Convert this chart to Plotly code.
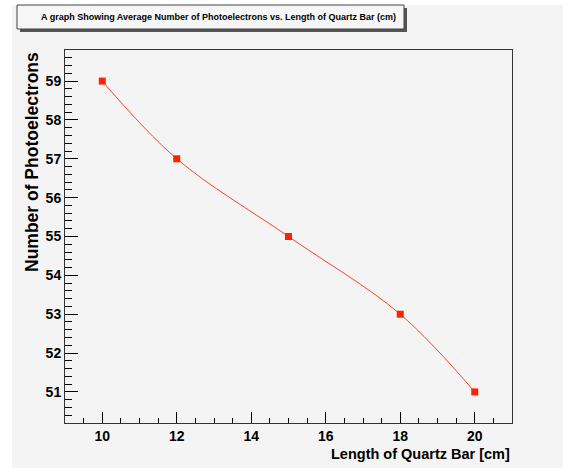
import plotly.graph_objects as go

# Data
lengths_cm = [10, 12, 15, 18, 20]
photoelectrons = [59, 57, 55, 53, 51]
x_ticks = [10, 12, 14, 16, 18, 20]
y_ticks = [51, 52, 53, 54, 55, 56, 57, 58, 59]

title_text = "A graph Showing Average Number of Photoelectrons vs. Length of Quartz Bar (cm)"
x_title = "Length of Quartz Bar [cm]"
y_title = "Number of Photoelectrons"

W, H = 563, 468
L, R, T, B = 65, 51, 50, 45
PW, PH = W - L - R, H - T - B

def px_x(p):
    return (p - L) / PW

def px_y(p):
    return (H - B - p) / PH

BG = "#f4f4f4"
SANS = "Liberation Sans, Arial, sans-serif"

fig = go.Figure()
fig.add_trace(go.Scatter(
    x=lengths_cm, y=photoelectrons,
    mode="lines+markers",
    line=dict(color="#ff4422", width=1, shape="spline", smoothing=1.0),
    marker=dict(symbol="square", size=7, color="#ff2200"),
    showlegend=False, hoverinfo="x+y",
))

axis_common = dict(
    showgrid=False, zeroline=False,
    showline=True, linecolor="#333333", linewidth=1, mirror=True,
    ticks="inside", tickcolor="black", tickwidth=1,
    tickfont=dict(family=SANS, size=14, color="black", weight="bold"),
)

fig.update_xaxes(
    range=[9, 21], tickvals=x_ticks, ticklen=11,
    minor=dict(dtick=0.5, tick0=9, ticks="inside", ticklen=5, tickcolor="black", showgrid=False),
    **axis_common,
)
fig.update_yaxes(
    range=[50.2, 59.8], tickvals=y_ticks, ticklen=13,
    minor=dict(dtick=0.2, tick0=50.2, ticks="inside", ticklen=7, tickcolor="black", showgrid=False),
    **axis_common,
)

shapes = [
    # canvas background (white strip on left/top)
    dict(type="rect", xref="paper", yref="paper", layer="below",
         x0=px_x(12), x1=px_x(W + 5), y0=px_y(5), y1=px_y(H + 5),
         fillcolor=BG, line=dict(width=0)),
    # title box shadow
    dict(type="rect", xref="paper", yref="paper",
         x0=px_x(20), x1=px_x(407), y0=px_y(8), y1=px_y(32),
         fillcolor="#555555", line=dict(width=0)),
    # title box
    dict(type="rect", xref="paper", yref="paper",
         x0=px_x(17), x1=px_x(404), y0=px_y(5), y1=px_y(29),
         fillcolor="#f6f6f6", line=dict(color="#444444", width=1)),
]

annotations = [
    dict(text=title_text, xref="paper", yref="paper",
         x=px_x(218), y=px_y(17), xanchor="center", yanchor="middle",
         showarrow=False, font=dict(family=SANS, size=9, color="black", weight="bold")),
    dict(text=x_title, xref="paper", yref="paper",
         x=px_x(512), y=px_y(454), xanchor="right", yanchor="middle",
         showarrow=False, font=dict(family=SANS, size=14.5, color="black", weight="bold")),
    dict(text=y_title, xref="paper", yref="paper", textangle=-90,
         x=px_x(32), y=px_y(162), xanchor="center", yanchor="middle",
         showarrow=False, font=dict(family=SANS, size=17.5, color="black", weight="bold")),
]

fig.update_layout(
    width=W, height=H,
    margin=dict(l=L, r=R, t=T, b=B, pad=0),
    paper_bgcolor="white", plot_bgcolor=BG,
    shapes=shapes, annotations=annotations,
)

fig.write_html("out.html")
